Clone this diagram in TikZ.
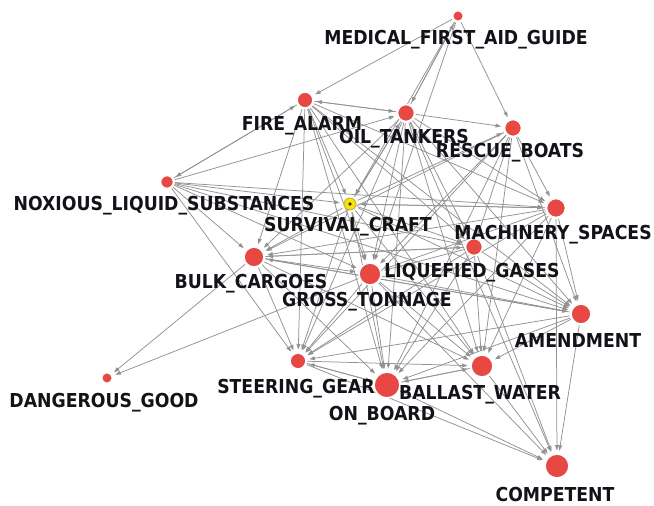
\documentclass[tikz,border=0pt]{standalone}
\usepackage{fontspec}
\newfontfamily\lblfont{DejaVu Sans Condensed}
\usetikzlibrary{arrows.meta}
\pgfdeclarelayer{paper}
\pgfdeclarelayer{edges}
\pgfsetlayers{paper,edges,main}
\definecolor{nodered}{RGB}{232,72,68}
\definecolor{edgegray}{RGB}{146,146,146}
\definecolor{scyellow}{RGB}{246,226,18}
\definecolor{scrim}{RGB}{200,180,40}
\definecolor{labelink}{RGB}{18,18,24}
\begin{document}
\begin{tikzpicture}[x=1pt,y=-1pt,
  vtx/.style={circle,fill=nodered,draw=white,line width=1.6pt,inner sep=0pt,
              minimum size=#1,outer sep=1.5pt},
  hub/.style={circle,fill=scyellow,draw=scrim,line width=0.9pt,inner sep=0pt,
              minimum size=#1,outer sep=2.5pt},
  lbl/.style={anchor=base,text=labelink,inner sep=0pt,
              font=\lblfont\bfseries\fontsize{19.2}{21}\selectfont},
  lnk/.style={draw=edgegray,line width=0.75pt,
              -{Triangle[length=5.5pt,width=3.8pt]},shorten >=2pt}]
\begin{pgfonlayer}{paper}
  \fill[white] (0,0) rectangle (654,506);
\end{pgfonlayer}
\useasboundingbox (0,0) rectangle (654,506);

% vertices
\node[vtx=11pt] (MED) at (458,16) {};
\node[vtx=16pt] (FA)  at (305,100) {};
\node[vtx=17pt] (OT)  at (406,113) {};
\node[vtx=17pt] (RB)  at (513,128) {};
\node[vtx=13pt] (NLS) at (167,182) {};
\node[hub=12pt] (SC)  at (350,204) {};
\fill[black!70!scrim] (SC) circle (1.8pt);
\node[vtx=19pt] (MS)  at (556,208) {};
\node[vtx=17pt] (LG)  at (474,247) {};
\node[vtx=20pt] (BC)  at (254,257) {};
\node[vtx=22pt] (GT)  at (370,274) {};
\node[vtx=20pt] (AM)  at (581,314) {};
\node[vtx=16pt] (SG)  at (298,361) {};
\node[vtx=26pt] (OB)  at (387,385) {};
\node[vtx=22pt] (BW)  at (482,366) {};
\node[vtx=11pt] (DG)  at (107,378) {};
\node[vtx=24pt] (CO)  at (557,466) {};

% connectors
\begin{pgfonlayer}{edges}
\foreach \a/\b in {
  MED/FA, MED/OT, OT/MED, MED/RB, MED/SC, MED/GT,
  FA/OT, OT/FA, OT/RB, FA/NLS, NLS/FA, NLS/OT,
  FA/SC, FA/BC, FA/GT, FA/SG, FA/OB, FA/BW, FA/LG, FA/MS, FA/AM,
  OT/SC, OT/BC, OT/GT, OT/SG, OT/OB, OT/BW, OT/LG, OT/MS, OT/AM, OT/CO,
  RB/MS, RB/LG, RB/BC, SC/RB, RB/GT, RB/SG, RB/BW, RB/AM, RB/OB,
  NLS/SC, NLS/MS, NLS/BC, NLS/GT, NLS/SG, NLS/LG, NLS/AM,
  SC/MS, SC/LG, SC/BC, SC/GT, SC/SG, SC/OB, SC/BW, SC/AM, SC/OT,
  MS/BC, MS/GT, MS/SG, MS/OB, MS/BW, MS/AM, MS/CO, MS/SC,
  LG/BC, LG/SG, LG/OB, LG/BW, LG/AM, LG/CO, LG/GT,
  BC/GT, BC/SG, BC/OB, BC/BW, BC/AM, BC/DG, BC/LG,
  GT/DG, GT/SG, GT/OB, GT/BW, GT/AM, GT/CO,
  SG/OB, OB/SG, SG/BW, BW/OB, OB/BW,
  AM/BW, AM/SG, AM/OB, AM/CO, AM/BC,
  BW/CO, OB/CO, SG/CO}
  \draw[lnk] (\a) -- (\b);
\end{pgfonlayer}

% labels
\node[lbl] at (456,45)  {MEDICAL\_FIRST\_AID\_GUIDE};
\node[lbl] at (302,130) {FIRE\_ALARM};
\node[lbl] at (404,143) {OIL\_TANKERS};
\node[lbl] at (510,157) {RESCUE\_BOATS};
\node[lbl] at (164,210) {NOXIOUS\_LIQUID\_SUBSTANCES};
\node[lbl] at (348,231) {SURVIVAL\_CRAFT};
\node[lbl] at (553,239) {MACHINERY\_SPACES};
\node[lbl] at (472,277) {LIQUEFIED\_GASES};
\node[lbl] at (251,288) {BULK\_CARGOES};
\node[lbl] at (367,306) {GROSS\_TONNAGE};
\node[lbl] at (578,347) {AMENDMENT};
\node[lbl] at (296,393) {STEERING\_GEAR};
\node[lbl] at (382,420) {ON\_BOARD};
\node[lbl] at (480,399) {BALLAST\_WATER};
\node[lbl] at (104,407) {DANGEROUS\_GOOD};
\node[lbl] at (555,501) {COMPETENT};
\end{tikzpicture}
\end{document}
